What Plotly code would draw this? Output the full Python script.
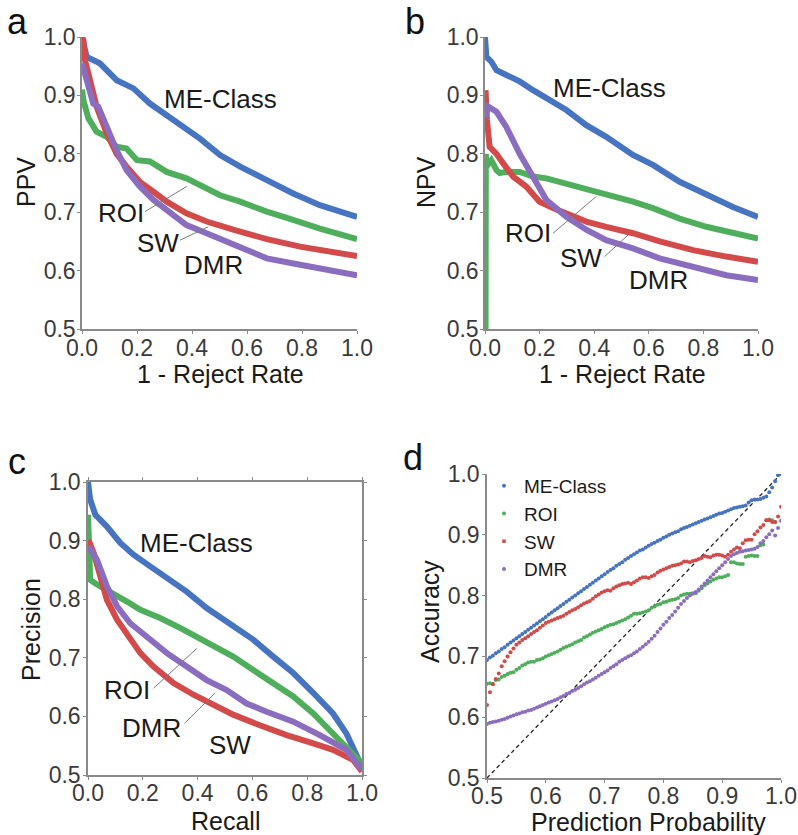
import plotly.graph_objects as go

# ---------------- colours ----------------
C_ME = "#4674C1"
C_ROI = "#4FAE5B"
C_SW = "#D24A4A"
C_DMR = "#8B6DBF"
AXC = "#8A8A8A"
FONT = "Liberation Sans, Arial, sans-serif"

# ---------------- panel a : PPV vs 1 - Reject Rate ----------------
a_me_x = [0.0, 0.017, 0.065, 0.126, 0.187, 0.247, 0.308, 0.38, 0.429, 0.502, 0.575, 0.672, 0.768, 0.865, 1.0]
a_me_y = [1.0, 0.966, 0.955, 0.926, 0.912, 0.886, 0.866, 0.844, 0.826, 0.798, 0.778, 0.755, 0.732, 0.712, 0.692]
a_roi_x = [0.0, 0.005, 0.023, 0.053, 0.09, 0.126, 0.162, 0.2, 0.247, 0.308, 0.38, 0.429, 0.502, 0.575, 0.672, 0.768, 0.865, 1.0]
a_roi_y = [0.91, 0.892, 0.861, 0.838, 0.829, 0.812, 0.809, 0.789, 0.787, 0.769, 0.758, 0.747, 0.729, 0.718, 0.701, 0.687, 0.672, 0.654]
a_sw_x = [0.0, 0.005, 0.011, 0.029, 0.053, 0.09, 0.126, 0.162, 0.21, 0.26, 0.308, 0.38, 0.453, 0.55, 0.672, 0.793, 0.914, 1.0]
a_sw_y = [1.0, 0.995, 0.96, 0.921, 0.881, 0.835, 0.80, 0.778, 0.752, 0.735, 0.718, 0.698, 0.684, 0.67, 0.654, 0.641, 0.632, 0.625]
a_dmr_x = [0.0, 0.017, 0.03, 0.041, 0.059, 0.09, 0.126, 0.162, 0.21, 0.26, 0.308, 0.38, 0.453, 0.55, 0.672, 0.793, 0.914, 1.0]
a_dmr_y = [0.955, 0.926, 0.90, 0.886, 0.881, 0.846, 0.806, 0.772, 0.744, 0.721, 0.704, 0.678, 0.664, 0.644, 0.621, 0.61, 0.601, 0.592]

# ---------------- panel b : NPV vs 1 - Reject Rate ----------------
b_me_x = [0.0, 0.005, 0.023, 0.042, 0.078, 0.127, 0.176, 0.225, 0.298, 0.371, 0.444, 0.542, 0.615, 0.713, 0.811, 0.908, 1.0]
b_me_y = [1.0, 0.966, 0.958, 0.943, 0.935, 0.924, 0.909, 0.895, 0.875, 0.849, 0.829, 0.798, 0.781, 0.752, 0.729, 0.709, 0.692]
b_roi_x = [0.002, 0.003, 0.005, 0.023, 0.042, 0.054, 0.078, 0.127, 0.176, 0.225, 0.298, 0.371, 0.444, 0.542, 0.615, 0.713, 0.811, 0.908, 1.0]
b_roi_y = [0.5, 0.80, 0.778, 0.789, 0.772, 0.767, 0.769, 0.769, 0.761, 0.758, 0.749, 0.741, 0.732, 0.718, 0.707, 0.689, 0.675, 0.664, 0.655]
b_sw_x = [0.002, 0.007, 0.017, 0.042, 0.066, 0.103, 0.151, 0.2, 0.249, 0.298, 0.371, 0.444, 0.542, 0.64, 0.762, 0.884, 1.0]
b_sw_y = [0.909, 0.858, 0.812, 0.80, 0.784, 0.761, 0.744, 0.718, 0.707, 0.698, 0.684, 0.675, 0.664, 0.65, 0.635, 0.624, 0.615]
b_dmr_x = [0.002, 0.011, 0.042, 0.078, 0.127, 0.176, 0.225, 0.298, 0.371, 0.444, 0.542, 0.64, 0.762, 0.884, 1.0]
b_dmr_y = [0.862, 0.881, 0.872, 0.846, 0.80, 0.761, 0.721, 0.692, 0.67, 0.652, 0.638, 0.621, 0.607, 0.592, 0.584]

# ---------------- panel c : Precision vs Recall ----------------
c_me_x = [0.0, 0.008, 0.027, 0.069, 0.118, 0.166, 0.227, 0.288, 0.36, 0.433, 0.53, 0.603, 0.676, 0.749, 0.822, 0.894, 0.943, 0.979, 1.0]
c_me_y = [1.0, 0.970, 0.944, 0.924, 0.896, 0.876, 0.856, 0.836, 0.813, 0.785, 0.753, 0.731, 0.702, 0.674, 0.64, 0.605, 0.571, 0.537, 0.514]
c_roi_x = [0.0, 0.002, 0.008, 0.033, 0.069, 0.106, 0.142, 0.191, 0.263, 0.336, 0.409, 0.47, 0.53, 0.603, 0.676, 0.749, 0.822, 0.894, 0.955, 1.0]
c_roi_y = [0.944, 0.856, 0.833, 0.825, 0.816, 0.805, 0.796, 0.782, 0.768, 0.751, 0.733, 0.719, 0.702, 0.679, 0.657, 0.634, 0.605, 0.571, 0.543, 0.52]
c_sw_x = [0.002, 0.021, 0.045, 0.069, 0.106, 0.142, 0.191, 0.239, 0.312, 0.385, 0.458, 0.53, 0.627, 0.725, 0.822, 0.894, 0.967, 1.0]
c_sw_y = [0.901, 0.879, 0.839, 0.799, 0.765, 0.742, 0.708, 0.685, 0.657, 0.637, 0.62, 0.603, 0.585, 0.568, 0.554, 0.543, 0.526, 0.506]
c_dmr_x = [0.002, 0.033, 0.069, 0.106, 0.154, 0.215, 0.288, 0.36, 0.433, 0.506, 0.579, 0.652, 0.749, 0.846, 0.943, 1.0]
c_dmr_y = [0.89, 0.867, 0.822, 0.788, 0.759, 0.736, 0.708, 0.685, 0.662, 0.645, 0.622, 0.608, 0.591, 0.568, 0.543, 0.509]

# ---------------- panel d : Accuracy vs Prediction Probability ----------------
d_x = [0.500, 0.505, 0.510, 0.515, 0.520, 0.525, 0.530, 0.535, 0.540, 0.545,
       0.550, 0.555, 0.560, 0.565, 0.570, 0.575, 0.580, 0.585, 0.590, 0.595,
       0.600, 0.605, 0.610, 0.615, 0.620, 0.625, 0.630, 0.635, 0.640, 0.645,
       0.650, 0.655, 0.660, 0.665, 0.670, 0.675, 0.680, 0.685, 0.690, 0.695,
       0.700, 0.705, 0.710, 0.715, 0.720, 0.725, 0.730, 0.735, 0.740, 0.745,
       0.750, 0.755, 0.760, 0.765, 0.770, 0.775, 0.780, 0.785, 0.790, 0.795,
       0.800, 0.805, 0.810, 0.815, 0.820, 0.825, 0.830, 0.835, 0.840, 0.845,
       0.850, 0.855, 0.860, 0.865, 0.870, 0.875, 0.880, 0.885, 0.890, 0.895,
       0.900, 0.905, 0.910, 0.915, 0.920, 0.925, 0.930, 0.935, 0.940, 0.945,
       0.950, 0.955, 0.960, 0.965, 0.970, 0.975, 0.980, 0.985, 0.990, 0.995,
       1.000]
d_me = [0.694, 0.698, 0.701, 0.705, 0.708, 0.712, 0.715, 0.719, 0.723, 0.726,
        0.730, 0.733, 0.737, 0.740, 0.744, 0.747, 0.751, 0.754, 0.758, 0.761,
        0.765, 0.769, 0.772, 0.776, 0.779, 0.783, 0.786, 0.790, 0.793, 0.797,
        0.800, 0.804, 0.807, 0.811, 0.814, 0.818, 0.821, 0.825, 0.828, 0.832,
        0.835, 0.839, 0.842, 0.845, 0.849, 0.852, 0.855, 0.859, 0.862, 0.865,
        0.868, 0.871, 0.874, 0.876, 0.879, 0.882, 0.885, 0.887, 0.890, 0.892,
        0.895, 0.897, 0.900, 0.902, 0.904, 0.906, 0.909, 0.911, 0.913, 0.915,
        0.917, 0.919, 0.921, 0.923, 0.925, 0.927, 0.929, 0.931, 0.933, 0.935,
        0.936, 0.938, 0.940, 0.942, 0.944, 0.945, 0.946, 0.947, 0.948, 0.953,
        0.957, 0.958, 0.958, 0.959, 0.961, 0.963, 0.970, 0.978, 0.988, 0.998,
        1.000]
d_roi = [0.655, 0.656, 0.655, 0.661, 0.662, 0.666, 0.668, 0.671, 0.673, 0.674,
         0.678, 0.681, 0.685, 0.687, 0.690, 0.691, 0.691, 0.694, 0.695, 0.697,
         0.700, 0.702, 0.704, 0.706, 0.708, 0.711, 0.714, 0.716, 0.718, 0.720,
         0.723, 0.725, 0.727, 0.731, 0.733, 0.736, 0.739, 0.741, 0.743, 0.745,
         0.748, 0.750, 0.752, 0.753, 0.755, 0.757, 0.759, 0.761, 0.764, 0.767,
         0.770, 0.770, 0.771, 0.772, 0.774, 0.776, 0.780, 0.782, 0.785, 0.786,
         0.789, 0.790, 0.792, 0.793, 0.794, 0.796, 0.800, 0.802, 0.803, 0.803,
         0.804, 0.804, 0.808, 0.812, 0.817, 0.820, 0.823, 0.826, 0.828, 0.830,
         0.830, 0.832, 0.834, 0.855, 0.855, 0.853, 0.852, 0.852, 0.864, 0.865,
         0.866, 0.865, 0.865, 0.883, 0.884, 0.924, 0.925, 0.924, 0.921, None,
         None]
d_sw = [0.620, 0.641, 0.654, 0.663, 0.672, 0.684, 0.692, 0.700, 0.707, 0.713,
        0.719, 0.723, 0.727, 0.730, 0.733, 0.737, 0.740, 0.743, 0.747, 0.751,
        0.755, 0.757, 0.759, 0.761, 0.763, 0.765, 0.767, 0.770, 0.773, 0.776,
        0.778, 0.781, 0.784, 0.787, 0.789, 0.791, 0.795, 0.799, 0.802, 0.805,
        0.807, 0.809, 0.808, 0.812, 0.815, 0.817, 0.819, 0.820, 0.821, 0.819,
        0.822, 0.825, 0.828, 0.830, 0.830, 0.829, 0.832, 0.834, 0.838, 0.841,
        0.843, 0.845, 0.847, 0.849, 0.850, 0.851, 0.853, 0.856, 0.856, 0.855,
        0.857, 0.858, 0.860, 0.862, 0.865, 0.864, 0.863, 0.866, 0.867, 0.867,
        0.866, 0.864, 0.867, 0.872, 0.876, 0.879, 0.878, 0.886, 0.891, 0.892,
        0.892, 0.901, 0.906, 0.912, 0.916, 0.924, 0.924, 0.921, 0.921, 0.930,
        0.946]
d_dmr = [0.589, 0.591, 0.592, 0.593, 0.594, 0.596, 0.597, 0.599, 0.601, 0.603,
         0.605, 0.606, 0.608, 0.609, 0.611, 0.612, 0.614, 0.616, 0.618, 0.620,
         0.622, 0.624, 0.626, 0.628, 0.630, 0.633, 0.635, 0.638, 0.640, 0.643,
         0.645, 0.648, 0.651, 0.654, 0.657, 0.659, 0.662, 0.665, 0.668, 0.671,
         0.674, 0.677, 0.681, 0.684, 0.687, 0.691, 0.694, 0.697, 0.700, 0.702,
         0.705, 0.708, 0.712, 0.716, 0.720, 0.724, 0.729, 0.734, 0.740, 0.746,
         0.752, 0.757, 0.763, 0.768, 0.774, 0.780, 0.786, 0.791, 0.796, 0.800,
         0.803, 0.806, 0.810, 0.815, 0.820, 0.825, 0.830, 0.835, 0.840, 0.845,
         0.850, 0.855, 0.860, 0.865, 0.868, 0.870, 0.872, 0.873, 0.874, 0.875,
         0.876, 0.877, 0.880, 0.886, 0.890, 0.896, 0.901, 0.907, 0.899, 0.911,
         0.923]
diag_x = [0.5, 1.0]
diag_y = [0.5, 1.0]

# ---------------- labels ----------------
panel_letters = ["a", "b", "c", "d"]
method_names = ["ME-Class", "ROI", "SW", "DMR"]

W, H = 798, 835


def px(v):
    return v / W


def py(v):
    return 1 - v / H


fig = go.Figure()

line_w = 6
panels = [
    ("x", "y", [(a_me_x, a_me_y, C_ME), (a_roi_x, a_roi_y, C_ROI), (a_sw_x, a_sw_y, C_SW), (a_dmr_x, a_dmr_y, C_DMR)]),
    ("x2", "y2", [(b_roi_x, b_roi_y, C_ROI), (b_me_x, b_me_y, C_ME), (b_sw_x, b_sw_y, C_SW), (b_dmr_x, b_dmr_y, C_DMR)]),
    ("x3", "y3", [(c_me_x, c_me_y, C_ME), (c_roi_x, c_roi_y, C_ROI), (c_sw_x, c_sw_y, C_SW), (c_dmr_x, c_dmr_y, C_DMR)]),
]
for xa, ya, series in panels:
    for sx, sy, col in series:
        fig.add_trace(go.Scatter(x=sx, y=sy, mode="lines", xaxis=xa, yaxis=ya,
                                 line=dict(color=col, width=line_w), showlegend=False,
                                 hoverinfo="skip"))

# panel d
fig.add_trace(go.Scatter(x=diag_x, y=diag_y, mode="lines", xaxis="x4", yaxis="y4",
                         line=dict(color="#222222", width=1.3, dash="4px,3px"),
                         showlegend=False))
for name, ys, col in [("ME-Class", d_me, C_ME), ("ROI", d_roi, C_ROI),
                      ("SW", d_sw, C_SW), ("DMR", d_dmr, C_DMR)]:
    fig.add_trace(go.Scatter(x=d_x, y=ys, mode="markers", name=name, xaxis="x4", yaxis="y4",
                             marker=dict(color=col, size=4), showlegend=True))

tickfont = dict(family=FONT, size=23, color="#3a3a3a")


def axis(domain, rng, dtick, anchor, mirror=False, standoff=0):
    return dict(domain=domain, range=rng, dtick=dtick, tick0=rng[0], tickformat=".1f",
                showline=True, linecolor=AXC, linewidth=1.5, mirror=mirror,
                ticks="outside", ticklen=3, tickcolor=AXC, tickwidth=1,
                showgrid=False, zeroline=False, tickfont=tickfont, anchor=anchor,
                automargin=False, ticklabelstandoff=standoff, fixedrange=True)


fig.update_layout(
    width=W, height=H, margin=dict(l=0, r=0, t=0, b=0, autoexpand=False),
    paper_bgcolor="white", plot_bgcolor="white",
    font=dict(family=FONT, color="#1a1a1a"),
    xaxis=axis([px(82), px(357)], [0, 1], 0.2, "y", standoff=-5),
    yaxis=axis([py(329), py(37)], [0.5, 1], 0.1, "x", standoff=-3),
    xaxis2=axis([px(485), px(758)], [0, 1], 0.2, "y2", standoff=-5),
    yaxis2=axis([py(329), py(37)], [0.5, 1], 0.1, "x2", standoff=-3),
    xaxis3=axis([px(88), px(362)], [0, 1], 0.2, "y3", mirror="ticks", standoff=-6),
    yaxis3=axis([py(775), py(482)], [0.5, 1], 0.1, "x3", mirror="ticks", standoff=-2),
    xaxis4=axis([px(487), px(781)], [0.5, 1], 0.1, "y4", standoff=-6),
    yaxis4=axis([py(778), py(474)], [0.5, 1], 0.1, "x4", standoff=-2),
    legend=dict(x=px(484), y=py(467), xanchor="left", yanchor="top",
                font=dict(family=FONT, size=19, color="#1a1a1a"),
                bgcolor="rgba(0,0,0,0)", tracegroupgap=0, itemwidth=30),
)

ann = []
# panel letters
for letter, (lx, ly) in zip(panel_letters, [(17, 21), (415, 21), (17, 462), (413, 458)]):
    ann.append(dict(text=letter, x=px(lx), y=py(ly), xref="paper", yref="paper",
                    xanchor="center", yanchor="middle", showarrow=False,
                    font=dict(family=FONT, size=36, color="#111111")))
# axis titles
titles = [
    ("PPV", 26, 182, -90), ("1 - Reject Rate", 220, 374, 0),
    ("NPV", 426, 182, -90), ("1 - Reject Rate", 622, 374, 0),
    ("Precision", 31, 630, -90), ("Recall", 225, 821, 0),
    ("Accuracy", 430, 612, -90), ("Prediction Probability", 648, 822, 0),
]
for t, tx, ty, rot in titles:
    ann.append(dict(text=t, x=px(tx), y=py(ty), xref="paper", yref="paper",
                    xanchor="center", yanchor="middle", showarrow=False, textangle=rot,
                    font=dict(family=FONT, size=25, color="#1a1a1a")))

# curve labels (panel axis refs)
curve_labels = [
    ("x", "y", [(0.502, 0.894), (0.141, 0.698), (0.278, 0.647), (0.478, 0.610)]),
    ("x2", "y2", [(0.457, 0.912), (0.158, 0.664), (0.353, 0.621), (0.634, 0.584)]),
    ("x3", "y3", [(0.397, 0.896), (0.142, 0.645), (0.518, 0.551), (0.233, 0.580)]),
]
for xr, yr, pos in curve_labels:
    for name, (lx, ly) in zip(method_names, pos):
        ann.append(dict(text=name, x=lx, y=ly, xref=xr, yref=yr, xanchor="center",
                        yanchor="middle", showarrow=False,
                        font=dict(family=FONT, size=26, color="#1a1a1a")))
fig.update_layout(annotations=ann)

leaders = [
    ("x", "y", 0.229, 0.701, 0.381, 0.744), ("x", "y", 0.356, 0.652, 0.459, 0.675),
    ("x2", "y2", 0.249, 0.664, 0.408, 0.727), ("x2", "y2", 0.438, 0.624, 0.524, 0.661),
    ("x3", "y3", 0.239, 0.648, 0.397, 0.716), ("x3", "y3", 0.352, 0.588, 0.464, 0.640),
]
for xr, yr, x0, y0, x1, y1 in leaders:
    fig.add_shape(type="line", xref=xr, yref=yr, x0=x0, y0=y0, x1=x1, y1=y1,
                  line=dict(color="#7a7a7a", width=1))

fig.write_html("out.html")
